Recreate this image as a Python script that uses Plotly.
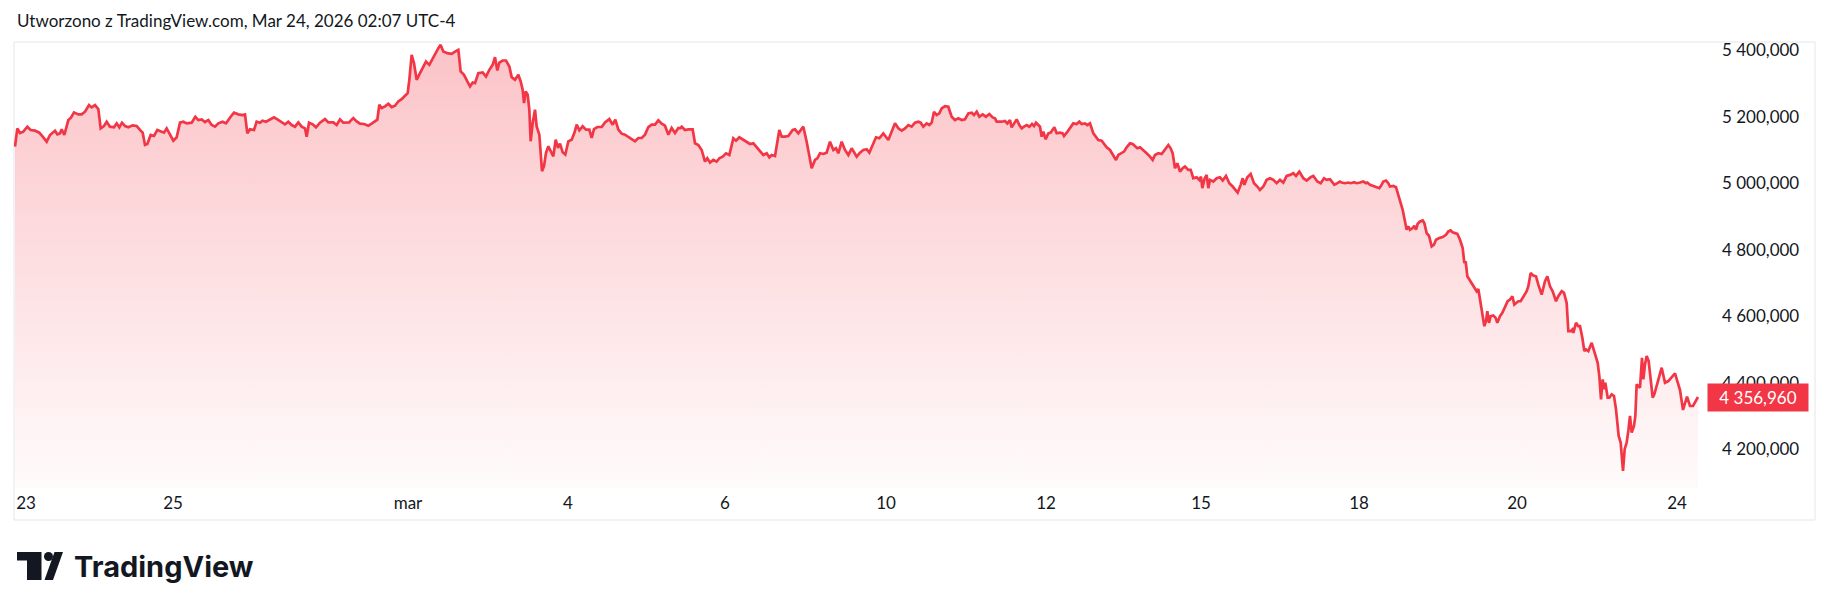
import plotly.graph_objects as go

# ---------------- data (bar index on TradingView's gap-free time scale, price) ----------------
BAR_1 = [3, 10, 18, 28, 40, 50, 63, 76, 88, 98,
         108, 123, 130, 138, 143, 151, 163, 171, 180, 193,
         203, 213, 225, 233, 243, 253, 260, 270, 278, 288,
         300, 308, 316, 324, 333, 343, 356, 368, 380, 386,
         393, 400, 410, 420, 430, 440, 450, 458, 468, 478,
         488, 498, 508, 518, 533, 544, 553, 563, 573, 583,
         593, 603, 613, 626, 636, 643, 650, 660, 673, 685,
         693, 700, 708, 720, 728, 738, 746, 756, 768, 780,
         790, 803, 813, 823, 833, 843, 853, 863, 873, 878,
         885, 896, 906, 918, 933, 943, 958, 968, 978, 988,
         1006]
PRICE_1 = [5110, 5165, 5151, 5155, 5170, 5160, 5158, 5152, 5138, 5125,
           5145, 5158, 5147, 5150, 5162, 5145, 5190, 5197, 5213, 5207,
           5207, 5215, 5235, 5228, 5235, 5223, 5165, 5172, 5185, 5170,
           5168, 5180, 5168, 5182, 5172, 5168, 5174, 5172, 5158, 5152,
           5115, 5118, 5145, 5142, 5160, 5155, 5152, 5165, 5148, 5128,
           5138, 5182, 5185, 5180, 5182, 5200, 5190, 5192, 5184, 5190,
           5175, 5170, 5180, 5185, 5180, 5192, 5200, 5212, 5207, 5205,
           5207, 5150, 5162, 5160, 5185, 5182, 5188, 5185, 5192, 5198,
           5192, 5182, 5177, 5185, 5175, 5170, 5183, 5170, 5165, 5140,
           5182, 5177, 5168, 5182, 5193, 5183, 5183, 5175, 5192, 5182,
           5183]

BAR_2 = [1008, 1018, 1028, 1038, 1050, 1063, 1073, 1083, 1090, 1096,
         1103, 1113, 1123, 1133, 1143, 1153, 1163, 1173, 1181, 1186,
         1193, 1200, 1208, 1218, 1228, 1236, 1246, 1256, 1266, 1273,
         1280, 1288, 1300, 1313, 1323, 1333, 1340, 1350, 1360, 1368,
         1376, 1383, 1393, 1406, 1416, 1426, 1436, 1443, 1450, 1456,
         1466, 1476, 1486, 1493, 1503, 1513, 1520, 1526, 1530, 1535,
         1541, 1546, 1550, 1556, 1563, 1568, 1576, 1580, 1584, 1590,
         1596, 1603, 1610, 1618, 1625, 1632, 1638, 1646, 1654, 1663,
         1673, 1681, 1688, 1696, 1706, 1716, 1726, 1733, 1740, 1750,
         1763, 1773, 1786, 1796, 1804, 1813, 1823, 1833, 1843, 1853,
         1863, 1873, 1883, 1893, 1903, 1913, 1923, 1933, 1943, 1953,
         1963, 1973, 1983, 1993]
PRICE_2 = [5186, 5196, 5186, 5179, 5178, 5173, 5179, 5186, 5191, 5236,
           5226, 5231, 5239, 5229, 5233, 5246, 5253, 5263, 5271, 5311,
           5386, 5361, 5311, 5331, 5351, 5366, 5356, 5376, 5396, 5406,
           5416, 5396, 5391, 5389, 5396, 5401, 5336, 5326, 5306, 5291,
           5303, 5301, 5331, 5333, 5321, 5341, 5356, 5379, 5339, 5363,
           5369, 5369, 5351, 5319, 5311, 5326, 5306, 5281, 5241, 5276,
           5266, 5221, 5126, 5181, 5221, 5171, 5146, 5101, 5036, 5051,
           5091, 5111, 5096, 5081, 5131, 5106, 5119, 5093, 5086, 5126,
           5131, 5151, 5176, 5159, 5171, 5161, 5161, 5136, 5163, 5169,
           5169, 5183, 5193, 5176, 5191, 5161, 5149, 5146, 5139, 5133,
           5126, 5136, 5136, 5146, 5169, 5176, 5176, 5189, 5179, 5173,
           5146, 5166, 5151, 5166]

BAR_3 = [1998, 2003, 2013, 2023, 2036, 2043, 2053, 2063, 2073, 2080,
         2088, 2098, 2108, 2116, 2126, 2136, 2146, 2158, 2166, 2176,
         2188, 2198, 2208, 2218, 2230, 2240, 2248, 2258, 2266, 2273,
         2283, 2296, 2303, 2313, 2323, 2336, 2343, 2353, 2363, 2368,
         2378, 2386, 2393, 2403, 2410, 2418, 2428, 2438, 2448, 2458,
         2466, 2473, 2483, 2493, 2503, 2513, 2528, 2538, 2548, 2558,
         2566, 2576, 2586, 2596, 2608, 2623, 2633, 2643, 2653, 2663,
         2673, 2683, 2693, 2703, 2713, 2720, 2728, 2738, 2746, 2753,
         2760, 2768, 2776, 2783, 2793, 2803, 2813, 2823, 2833, 2843,
         2853, 2863, 2873, 2880, 2888, 2896, 2906, 2916, 2926, 2936,
         2943, 2948, 2963, 2973, 2980, 2988]
PRICE_3 = [5165, 5170, 5160, 5162, 5162, 5120, 5115, 5100, 5065, 5075,
           5062, 5070, 5065, 5075, 5080, 5090, 5085, 5135, 5128, 5138,
           5130, 5125, 5118, 5120, 5105, 5095, 5085, 5090, 5078, 5085,
           5082, 5160, 5140, 5140, 5142, 5160, 5162, 5150, 5165, 5170,
           5125, 5080, 5045, 5070, 5075, 5090, 5088, 5092, 5125, 5100,
           5105, 5090, 5125, 5100, 5085, 5105, 5080, 5092, 5100, 5102,
           5092, 5115, 5138, 5135, 5150, 5130, 5155, 5180, 5165, 5158,
           5165, 5175, 5170, 5182, 5185, 5182, 5170, 5180, 5175, 5182,
           5215, 5205, 5210, 5225, 5232, 5230, 5200, 5190, 5195, 5190,
           5192, 5210, 5212, 5205, 5215, 5200, 5207, 5200, 5208, 5198,
           5195, 5185, 5185, 5187, 5180, 5190]

BAR_4 = [2993, 3000, 3008, 3016, 3023, 3030, 3038, 3046, 3054, 3060,
         3066, 3073, 3078, 3083, 3088, 3095, 3103, 3110, 3116, 3121,
         3128, 3138, 3146, 3150, 3158, 3168, 3178, 3188, 3196, 3203,
         3213, 3220, 3228, 3238, 3246, 3253, 3263, 3270, 3278, 3288,
         3298, 3306, 3313, 3323, 3330, 3338, 3348, 3356, 3363, 3370,
         3378, 3388, 3398, 3408, 3416, 3423, 3433, 3443, 3453, 3463,
         3470, 3476, 3483, 3490, 3498, 3506, 3513, 3523, 3530, 3538,
         3548, 3556, 3561, 3565, 3572, 3578, 3583, 3588, 3598, 3608,
         3618, 3626, 3636, 3646, 3656, 3666, 3671, 3680, 3686, 3691,
         3700, 3710, 3720, 3730, 3738, 3748, 3758, 3768, 3778, 3788,
         3798, 3808, 3818, 3828, 3838, 3846, 3856, 3868, 3878, 3890,
         3898, 3910, 3920, 3930, 3938, 3948, 3961, 3970, 3978]
PRICE_4 = [5168, 5180, 5192, 5175, 5165, 5170, 5175, 5170, 5178, 5172,
           5182, 5175, 5170, 5140, 5155, 5132, 5150, 5152, 5160, 5168,
           5150, 5152, 5150, 5142, 5152, 5165, 5180, 5178, 5185, 5178,
           5180, 5175, 5180, 5150, 5140, 5130, 5128, 5120, 5108, 5100,
           5085, 5070, 5085, 5092, 5095, 5108, 5120, 5118, 5110, 5105,
           5108, 5100, 5090, 5080, 5070, 5085, 5090, 5088, 5100, 5115,
           5105, 5090, 5045, 5060, 5035, 5045, 5050, 5040, 5040, 5015,
           5018, 5010, 5020, 4985, 5015, 5025, 4985, 5010, 5005, 5015,
           5018, 5008, 5022, 5000, 4990, 4980, 4972, 4995, 5015, 4995,
           5018, 5028, 5000, 4990, 4980, 4990, 5010, 5015, 5010, 5000,
           5010, 5002, 5022, 5025, 5030, 5022, 5035, 5015, 5008, 5018,
           5022, 5005, 5000, 5015, 5010, 5012, 4995, 5000, 5005]

BAR_5 = [3983, 3993, 4003, 4010, 4020, 4028, 4038, 4048, 4056, 4060,
         4068, 4078, 4088, 4096, 4101, 4108, 4116, 4123, 4128, 4138,
         4146, 4151, 4158, 4166, 4173, 4178, 4183, 4188, 4196, 4201,
         4206, 4211, 4218, 4226, 4231, 4238, 4245, 4248, 4253, 4260,
         4266, 4276, 4286, 4296, 4303, 4310, 4316, 4323, 4330, 4338,
         4346, 4351, 4355, 4360, 4366, 4373, 4380, 4388, 4393, 4400,
         4406, 4411, 4416, 4420, 4425, 4430, 4438, 4445, 4450, 4458,
         4465, 4473, 4481, 4488, 4495, 4501, 4506, 4513, 4520, 4528,
         4538, 4543, 4550, 4558, 4566, 4573, 4583, 4593, 4600, 4608,
         4616, 4626, 4633, 4643, 4650, 4658, 4663, 4670, 4675, 4678,
         4686, 4693, 4698, 4705, 4711, 4716, 4723, 4733, 4738, 4745,
         4751, 4756, 4761, 4766, 4770, 4774, 4781, 4786, 4793, 4800,
         4806, 4814, 4820, 4827, 4832, 4838, 4843, 4848, 4853, 4860,
         4864, 4868, 4873, 4878, 4884, 4888, 4893, 4898, 4904, 4910,
         4916, 4921, 4928, 4936, 4943, 4953, 4963, 4968,
         4983, 4998, 5007, 5019, 5028, 5037, 5052]
PRICE_5 = [5002, 5000, 5002, 5000, 5003, 5000, 5002, 5005, 5000, 5002,
           4995, 4992, 4988, 4985, 4992, 5005, 5008, 5000, 4990, 4992,
           4988, 4972, 4950, 4920, 4885, 4860, 4870, 4860, 4865, 4872,
           4860, 4878, 4885, 4888, 4880, 4850, 4842, 4830, 4810, 4815,
           4830, 4835, 4838, 4845, 4855, 4858, 4852, 4850, 4848, 4830,
           4805, 4760, 4765, 4720, 4710, 4700, 4690, 4675, 4682, 4640,
           4600, 4570, 4585, 4615, 4580, 4600, 4602, 4595, 4580, 4600,
           4610, 4630, 4645, 4650, 4660, 4635, 4640, 4645, 4645, 4660,
           4675, 4690, 4730, 4722, 4720, 4695, 4665, 4705, 4720, 4690,
           4675, 4645, 4660, 4675, 4670, 4640, 4555, 4555, 4560, 4550,
           4580, 4570, 4570, 4535, 4495, 4500, 4495, 4520, 4500, 4480,
           4460, 4420, 4350, 4410, 4380, 4400, 4355, 4355, 4365, 4360,
           4320, 4240, 4220, 4135, 4200, 4220, 4255, 4300, 4250, 4270,
           4300, 4395, 4390, 4385, 4475, 4410, 4455, 4480, 4465, 4400,
           4355, 4365, 4395, 4420, 4445, 4400, 4405, 4410,
           4428, 4378, 4318, 4358, 4330, 4330, 4356.96]

LAST_PRICE = 4356.96
LAST_PRICE_TEXT = "4 356,960"

X_TICK_BARS = [36, 477, 1182, 1662, 2133, 2616, 3096, 3561, 4035, 4509, 4989]
X_TICK_TEXT = ["23", "25", "mar", "4", "6", "10", "12", "15", "18", "20", "24"]
Y_TICK_VALS = [4200, 4400, 4600, 4800, 5000, 5200, 5400]
Y_TICK_TEXT = ["4 200,000", "4 400,000", "4 600,000", "4 800,000",
               "5 000,000", "5 200,000", "5 400,000"]

HEADER = "Utworzono z TradingView.com, Mar 24, 2026 02:07 UTC-4"

for a, b in [(BAR_1, PRICE_1), (BAR_2, PRICE_2), (BAR_3, PRICE_3), (BAR_4, PRICE_4), (BAR_5, PRICE_5)]:
    assert len(a) == len(b), (len(a), len(b))

bars = BAR_1 + BAR_2 + BAR_3 + BAR_4 + BAR_5
prices = PRICE_1 + PRICE_2 + PRICE_3 + PRICE_4 + PRICE_5

# ---------------- style / layout ----------------
W, H = 1830, 611
PL, PR, PT, PB = 14, 1705, 42, 488      # plot area in pixels
RED = "#F23645"
TXT = "#131722"
FONT = "Lato"
Y_RANGE = [4083.3, 5424.7]
X_RANGE = [0, 5073]


def px(x):
    return (x - PL) / (PR - PL)


def py(y):
    return (PB - y) / (PB - PT)


fig = go.Figure()
fig.add_trace(go.Scatter(
    x=bars, y=prices, mode="lines",
    line=dict(color=RED, width=2.7),
    fill="tozeroy",
    fillgradient=dict(type="vertical",
                      colorscale=[[0, "rgba(242,54,69,0.02)"], [1, "rgba(242,54,69,0.30)"]],
                      start=Y_RANGE[0], stop=Y_RANGE[1]),
    hoverinfo="skip", showlegend=False,
))

shapes = [
    # chart frame
    dict(type="rect", xref="paper", yref="paper",
         x0=px(14), x1=px(1815), y0=py(520), y1=py(42),
         line=dict(color="#E6E6E9", width=1), fillcolor="rgba(0,0,0,0)", layer="below"),
    # TradingView logo mark
    dict(type="path", xref="paper", yref="paper",
         path=f"M {px(17)},{py(552)} L {px(41.5)},{py(552)} L {px(41.5)},{py(580)} "
              f"L {px(27)},{py(580)} L {px(27)},{py(560.5)} L {px(17)},{py(560.5)} Z",
         fillcolor=TXT, line=dict(width=0)),
    dict(type="circle", xref="paper", yref="paper",
         x0=px(44), x1=px(53), y0=py(561), y1=py(552),
         fillcolor=TXT, line=dict(width=0)),
    dict(type="path", xref="paper", yref="paper",
         path=f"M {px(54.5)},{py(552)} L {px(63)},{py(552)} L {px(53)},{py(580)} "
              f"L {px(44.5)},{py(580)} Z",
         fillcolor=TXT, line=dict(width=0)),
]

annotations = [
    dict(text=HEADER, xref="paper", yref="paper", x=px(15), y=py(20),
         xanchor="left", yanchor="middle", showarrow=False,
         font=dict(family=FONT, size=17, color=TXT)),
    dict(text="TradingView", xref="paper", yref="paper", x=px(72), y=py(566),
         xanchor="left", yanchor="middle", showarrow=False,
         font=dict(family="Inter", size=29, color=TXT, weight=700)),
    dict(text=LAST_PRICE_TEXT, xref="paper", yref="y", x=1, y=LAST_PRICE,
         xanchor="left", yanchor="middle", xshift=2, showarrow=False,
         bgcolor=RED, borderpad=4, width=92, height=19,
         font=dict(family=FONT, size=17, color="white")),
]

fig.update_layout(
    width=W, height=H,
    margin=dict(l=PL, r=W - PR, t=PT, b=H - PB, pad=0),
    paper_bgcolor="white", plot_bgcolor="white",
    shapes=shapes, annotations=annotations,
    showlegend=False,
    xaxis=dict(range=X_RANGE, tickvals=X_TICK_BARS, ticktext=X_TICK_TEXT,
               showgrid=False, zeroline=False, showline=False, ticks="",
               ticklabelstandoff=3,
               tickfont=dict(family=FONT, size=17, color=TXT), fixedrange=True),
    yaxis=dict(range=Y_RANGE, side="right", tickvals=Y_TICK_VALS, ticktext=Y_TICK_TEXT,
               showgrid=False, zeroline=False, showline=False, ticks="",
               ticklabelstandoff=16,
               tickfont=dict(family=FONT, size=17, color=TXT), fixedrange=True),
)

fig.write_html(
    "out.html",
    config={"displayModeBar": False},
    post_script="document.body.style.margin='0';document.body.style.overflow='hidden';",
)
